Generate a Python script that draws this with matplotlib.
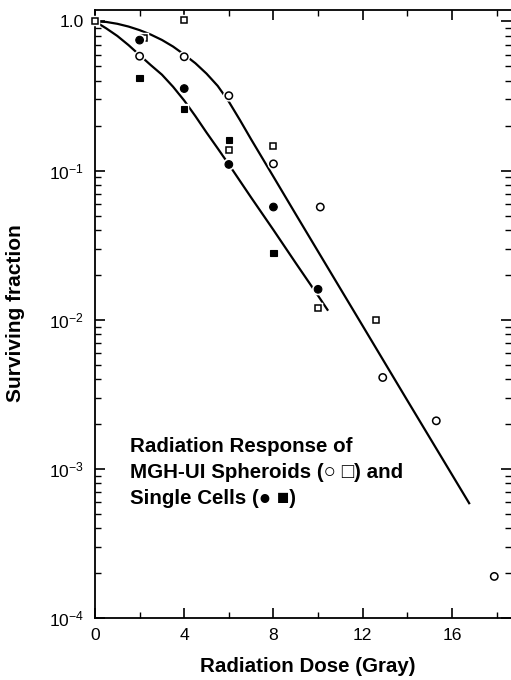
import matplotlib
matplotlib.use('Agg')
import matplotlib.pyplot as plt
import matplotlib.patheffects as pe
from matplotlib.ticker import FixedLocator, NullFormatter, FixedFormatter

plt.rcParams['font.family'] = ['Liberation Sans', 'DejaVu Sans']
plt.rcParams['mathtext.fontset'] = 'custom'
plt.rcParams['mathtext.rm'] = 'Liberation Sans'
plt.rcParams['mathtext.it'] = 'Liberation Sans:italic'
plt.rcParams['mathtext.bf'] = 'Liberation Sans:bold'

# ---------------- data ----------------
# Spheroids, open circles
sph_circle_dose = [2, 4, 6, 8, 10.1, 12.9, 15.3, 17.9]
sph_circle_sf = [0.585, 0.58, 0.318, 0.111, 0.057, 0.0041, 0.0021, 0.00019]
# Spheroids, open squares
sph_square_dose = [0, 2.2, 4, 6, 8, 10, 12.6]
sph_square_sf = [1.0, 0.78, 1.02, 0.137, 0.146, 0.012, 0.010]
# Single cells, filled circles
cell_circle_dose = [2, 4, 6, 8, 10]
cell_circle_sf = [0.75, 0.355, 0.11, 0.057, 0.016]
# Single cells, filled squares
cell_square_dose = [2, 4, 6, 8]
cell_square_sf = [0.42, 0.26, 0.16, 0.028]

# Fitted survival curves
sph_fit_dose = [0, 0.5, 1, 1.5, 2, 2.5, 3, 3.5, 4, 4.5, 5, 5.5, 6, 6.5, 7,
                8, 9, 10, 12, 14, 16.8]
sph_fit_sf = [1.0, 0.993, 0.965, 0.925, 0.875, 0.817, 0.752, 0.679, 0.60,
              0.525, 0.447, 0.37, 0.29, 0.218, 0.162, 0.091, 0.051, 0.0287,
              0.0091, 0.00288, 0.00058]
cell_fit_dose = [0, 0.5, 1, 1.5, 2, 2.5, 3, 3.5, 4, 4.5, 5, 5.5, 6, 7, 8, 9,
                 10, 10.45]
cell_fit_sf = [1.0, 0.90, 0.80, 0.695, 0.595, 0.51, 0.44, 0.365, 0.295,
               0.232, 0.18, 0.141, 0.11, 0.066, 0.040, 0.024, 0.0145, 0.0115]

x_major = [0, 4, 8, 12, 16]
x_minor = [2, 6, 10, 14, 18]
y_major = [1.0, 1e-1, 1e-2, 1e-3, 1e-4]
y_major_labels = ['1.0', r'$\mathregular{10^{-1}}$', r'$\mathregular{10^{-2}}$',
                  r'$\mathregular{10^{-3}}$', r'$\mathregular{10^{-4}}$']
y_minor = [m * d for d in [1e-4, 1e-3, 1e-2, 1e-1] for m in range(2, 10)]

xlabel = 'Radiation Dose (Gray)'
ylabel = 'Surviving fraction'
note_lines = ['Radiation Response of',
              'MGH-UI Spheroids (\u25CB \u25A1) and',
              'Single Cells (\u25CF \u25A0)']

# ---------------- figure ----------------
W, H = 511, 680
fig = plt.figure(figsize=(W / 100, H / 100), dpi=100)
ax_l, ax_r, ax_t, ax_b = 95, 511, 10, 618
ax = fig.add_axes([ax_l / W, 1 - ax_b / H, (ax_r - ax_l) / W, (ax_b - ax_t) / H])

ax.set_yscale('log')
ax.set_xlim(0, 18.65)
ax.set_ylim(1e-4, 1.194)

lw = 1.6
ax.plot(sph_fit_dose, sph_fit_sf, color='black', lw=lw, zorder=2,
        solid_capstyle='butt', solid_joinstyle='round')
ax.plot(cell_fit_dose, cell_fit_sf, color='black', lw=lw, zorder=2,
        solid_capstyle='butt', solid_joinstyle='round')

halo = [pe.withStroke(linewidth=3.2, foreground='white')]
ax.plot(sph_circle_dose, sph_circle_sf, ls='none', marker='o', ms=5.3,
        mfc='white', mec='black', mew=1.1, zorder=4, clip_on=False,
        path_effects=halo)
ax.plot(sph_square_dose, sph_square_sf, ls='none', marker='s', ms=4.3,
        mfc='white', mec='black', mew=1.1, zorder=4, clip_on=False,
        path_effects=halo)
ax.plot(cell_circle_dose, cell_circle_sf, ls='none', marker='o', ms=5.5,
        mfc='black', mec='black', mew=0.8, zorder=4, clip_on=False,
        path_effects=halo)
ax.plot(cell_square_dose, cell_square_sf, ls='none', marker='s', ms=4.5,
        mfc='black', mec='black', mew=0.8, zorder=4, clip_on=False,
        path_effects=halo)

# ticks
ax.xaxis.set_major_locator(FixedLocator(x_major))
ax.xaxis.set_minor_locator(FixedLocator(x_minor))
ax.yaxis.set_major_locator(FixedLocator(y_major))
ax.yaxis.set_major_formatter(FixedFormatter(y_major_labels))
ax.yaxis.set_minor_locator(FixedLocator(y_minor))
ax.yaxis.set_minor_formatter(NullFormatter())

ax.tick_params(which='both', direction='in', top=True, right=True,
               colors='black')
ax.tick_params(which='major', length=7.5, width=1.2, labelsize=12.6)
ax.tick_params(which='minor', length=4.5, width=1.0)
ax.tick_params(axis='y', which='major', pad=8)
ax.tick_params(axis='x', which='major', pad=7)

for s in ['left', 'bottom', 'top']:
    ax.spines[s].set_linewidth(1.3)
ax.spines['right'].set_visible(False)

ax.set_xlabel(xlabel, fontsize=14.8, fontweight='bold', va='baseline',
              ha='center')
ax.xaxis.set_label_coords((308 - ax_l) / (ax_r - ax_l),
                          (ax_b - 672) / (ax_b - ax_t))
ax.set_ylabel(ylabel, fontsize=15, fontweight='bold', va='center',
              ha='center')
ax.yaxis.set_label_coords((16 - ax_l) / (ax_r - ax_l),
                          (ax_b - 313) / (ax_b - ax_t))

for i, line in enumerate(note_lines):
    base = 452 + 26 * i
    ax.text((130.5 - ax_l) / (ax_r - ax_l), (ax_b - base) / (ax_b - ax_t),
            line, transform=ax.transAxes, fontsize=14.8, fontweight='bold',
            ha='left', va='baseline')

fig.savefig('out.png', dpi=100)
